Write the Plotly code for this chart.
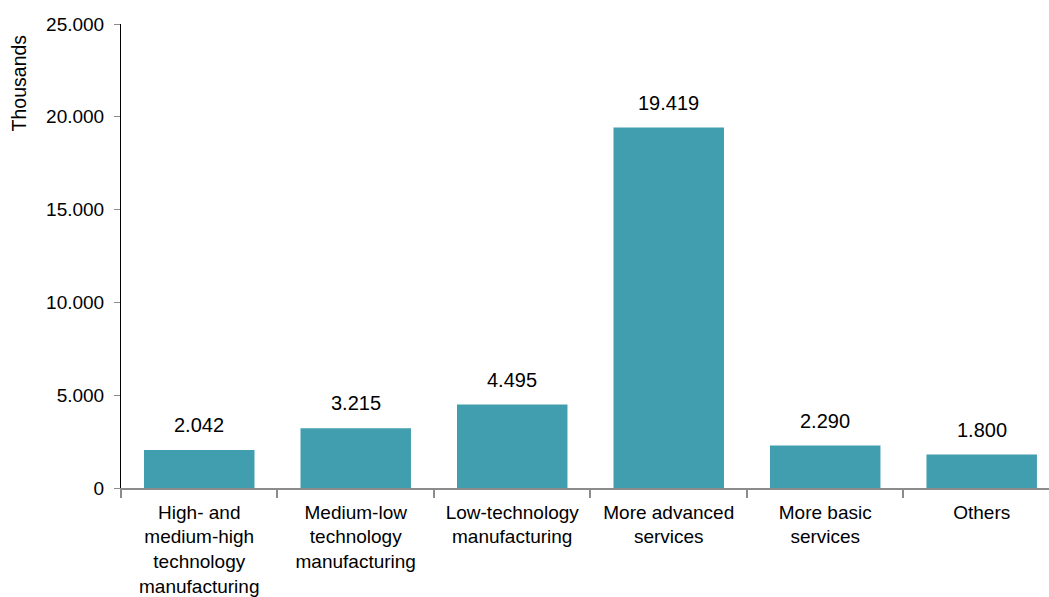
import plotly.graph_objects as go

# Employment by sector group, thousands
categories = [
    "High- and<br>medium-high<br>technology<br>manufacturing",
    "Medium-low<br>technology<br>manufacturing",
    "Low-technology<br>manufacturing",
    "More advanced<br>services",
    "More basic<br>services",
    "Others",
]
values = [2042, 3215, 4495, 19419, 2290, 1800]
y_ticks = [0, 5000, 10000, 15000, 20000, 25000]
y_tick_text = ["0", "5.000", "10.000", "15.000", "20.000", "25.000"]
axis_title = "Thousands"

BAR_COLOR = "#419EAF"
FONT = "Liberation Sans, Arial, sans-serif"

fig = go.Figure(
    go.Bar(
        x=categories,
        y=values,
        marker=dict(color=BAR_COLOR, line=dict(width=0)),
        hoverinfo="skip",
    )
)

# value labels above each bar
for cat, v in zip(categories, values):
    fig.add_annotation(
        x=cat, y=v, xref="x", yref="y",
        text=f"{v:,}".replace(",", "."),
        showarrow=False, yanchor="bottom", yshift=12,
        font=dict(family=FONT, size=20, color="#000000"),
    )

# rotated axis title near the top of the value axis
fig.add_annotation(
    x=0, y=0.872, xref="paper", yref="paper",
    xanchor="center", yanchor="middle", xshift=-102,
    text=axis_title, textangle=-90, showarrow=False,
    font=dict(family=FONT, size=19.5, color="#000000"),
)

fig.update_layout(
    width=1049, height=597,
    margin=dict(l=121, r=0, t=24, b=109),
    paper_bgcolor="white", plot_bgcolor="white",
    bargap=0.294,
    showlegend=False,
    font=dict(family=FONT, color="#000000"),
    xaxis=dict(
        type="category",
        range=[-0.5, 5.43],
        showline=True, linecolor="#8C8C8C", linewidth=1.5,
        ticks="outside", tickson="boundaries", ticklen=8,
        tickcolor="#8C8C8C", tickwidth=1.5,
        showgrid=False, zeroline=False,
        tickfont=dict(family=FONT, size=19, color="#000000"),
        ticklabelstandoff=6,
        automargin=False,
        fixedrange=True,
    ),
    yaxis=dict(
        range=[0, 25000],
        tickmode="array", tickvals=y_ticks, ticktext=y_tick_text,
        showline=True, linecolor="#000000", linewidth=1,
        ticks="outside", ticklen=6, tickcolor="#8C8C8C", tickwidth=1,
        showgrid=False, zeroline=False,
        tickfont=dict(family=FONT, size=19, color="#000000"),
        ticklabelstandoff=6,
        automargin=False,
        fixedrange=True,
    ),
)

fig.write_html("out.html")
